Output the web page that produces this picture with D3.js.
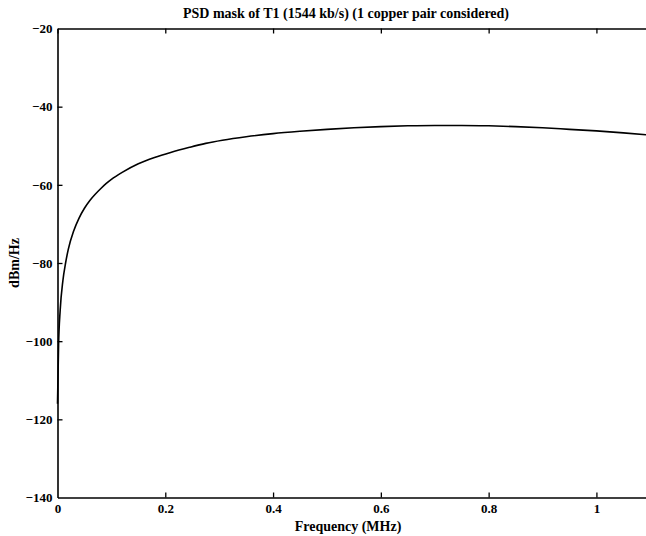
<!DOCTYPE html>
<html><head><meta charset="utf-8">
<script src="https://cdn.jsdelivr.net/npm/d3@7"></script>
<style>
html,body{margin:0;padding:0;background:#fff;}
svg text{font-family:"Liberation Serif","Times New Roman",serif;font-weight:bold;fill:#000;}
</style></head>
<body><svg id="c" width="646" height="536"></svg>
<script>
const freqMHz = [0, 0.002, 0.005, 0.01, 0.015, 0.02, 0.03, 0.04, 0.05, 0.06, 0.07, 0.08, 0.09, 0.1, 0.12, 0.15, 0.18, 0.21, 0.245, 0.275, 0.306, 0.35, 0.4, 0.45, 0.5, 0.55, 0.6, 0.65, 0.7, 0.75, 0.8, 0.85, 0.9, 0.95, 1.0, 1.05, 1.092];
const psdDbm = [-116, -101, -92, -84.5, -80, -76.5, -71.8, -68.5, -66, -64, -62.4, -61, -59.7, -58.6, -56.8, -54.6, -53, -51.7, -50.4, -49.4, -48.6, -47.7, -46.9, -46.3, -45.8, -45.4, -45.1, -44.9, -44.8, -44.8, -44.9, -45.1, -45.4, -45.8, -46.2, -46.7, -47.2];
const xTicks = [0, 0.2, 0.4, 0.6, 0.8, 1];
const yTicks = [-20, -40, -60, -80, -100, -120, -140];
const titleText = "PSD mask of T1 (1544 kb/s) (1 copper pair considered)";
const xLabel = "Frequency (MHz)";
const yLabel = "dBm/Hz";

const svg = d3.select("#c");
const L = 57.5, R = 646, T = 28.5, B = 497.5;
const x = d3.scaleLinear().domain([0, 1.092]).range([L, R]);
const y = d3.scaleLinear().domain([-140, -20]).range([B, T]);

const gB = svg.append("g").attr("transform", `translate(0,${B})`)
  .call(d3.axisBottom(x).tickValues(xTicks).tickFormat(d3.format("")).tickSizeInner(-5).tickSizeOuter(0).tickPadding(6));
const gT = svg.append("g").attr("transform", `translate(0,${T})`)
  .call(d3.axisTop(x).tickValues(xTicks).tickFormat("").tickSizeInner(-5).tickSizeOuter(0));
const gL = svg.append("g").attr("transform", `translate(${L},0)`)
  .call(d3.axisLeft(y).tickValues(yTicks).tickFormat(d3.format("")).tickSizeInner(-5).tickSizeOuter(0).tickPadding(5));
[gB, gT, gL].forEach(g => {
  g.selectAll("path.domain").attr("stroke", "#000").attr("stroke-width", 1.6);
  g.selectAll(".tick line").attr("stroke", "#000").attr("stroke-width", 1.3);
  g.selectAll(".tick text").attr("font-size", 13).attr("font-family", null).attr("fill", "#000");
});
gB.selectAll(".tick text").attr("dy", "0.71em");
gB.selectAll(".tick").filter(d => d === 0).select("line").remove();
gL.selectAll(".tick").filter(d => d === -20 || d === -140).select("line").remove();

const line = d3.line().x((d, i) => x(freqMHz[i])).y(d => y(d)).curve(d3.curveMonotoneX);
svg.append("path").datum(psdDbm).attr("d", line)
  .attr("fill", "none").attr("stroke", "#000").attr("stroke-width", 1.6);

svg.append("text").attr("x", 346).attr("y", 18).attr("text-anchor", "middle").attr("font-size", 14).text(titleText);
svg.append("text").attr("x", 348).attr("y", 531).attr("text-anchor", "middle").attr("font-size", 14).text(xLabel);
svg.append("text").attr("transform", `translate(19,${(T+B)/2}) rotate(-90)`).attr("text-anchor", "middle").attr("font-size", 14).text(yLabel);
</script></body></html>
